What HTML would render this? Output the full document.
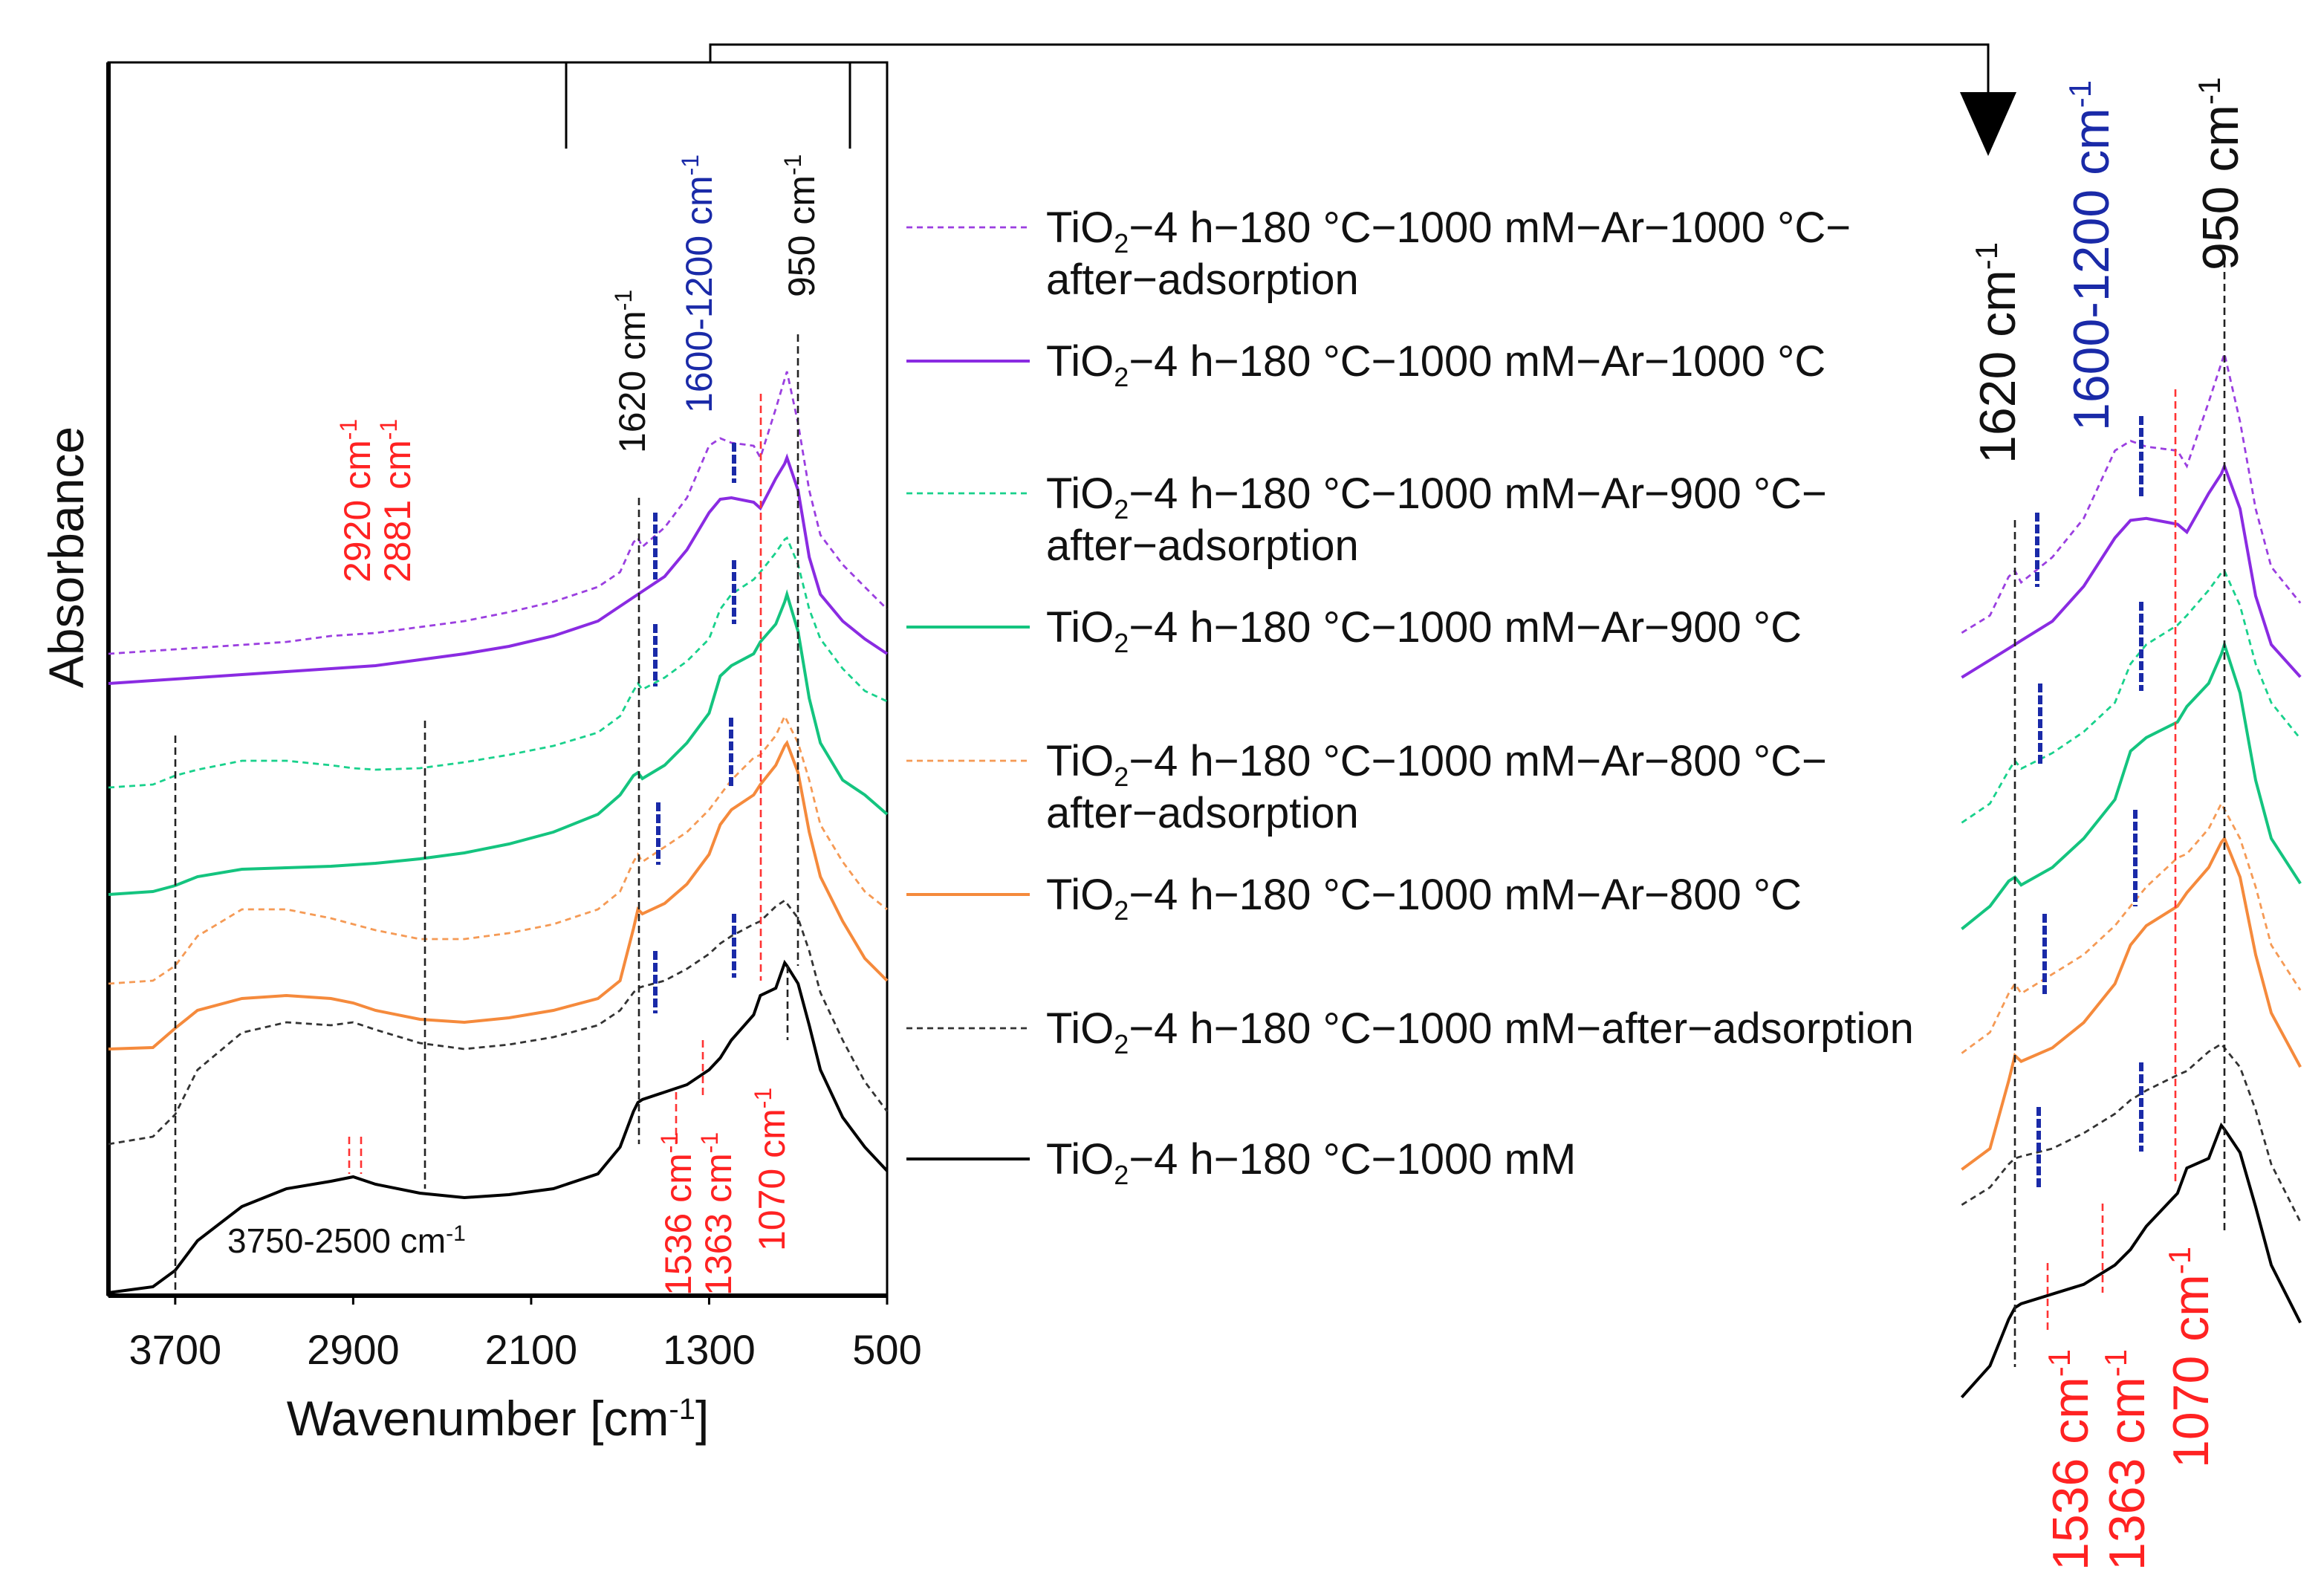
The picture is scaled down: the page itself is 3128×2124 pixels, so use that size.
<!DOCTYPE html>
<html><head><meta charset="utf-8">
<style>
html,body{margin:0;padding:0;background:#fff;}
svg{display:block;font-family:"Liberation Sans",Arial,sans-serif;}
</style></head>
<body>
<svg id="chart" width="3128" height="2124" viewBox="0 0 1564 1062" xmlns="http://www.w3.org/2000/svg">
<rect width="1564" height="1062" fill="#fff"/>
<g id="main"></g>
<g id="zoomp"></g>
<g id="legend"></g>
<g id="annot"></g>
</svg>
<script>
const wavenumbers=[4000,3800,3700,3600,3400,3200,3000,2900,2800,2600,2400,2200,2000,1800,1700,1640,1620,1600,1500,1400,1300,1250,1200,1100,1070,1000,960,950,900,850,800,700,600,500];
const blackSolid=[2,6,17,37,60,72,77,80,75,69,66,68,72,82,100,124,130,132,137,142,152,160,172,189,202,207,224,222,210,182,152,120,100,84];
const blackDashed=[102,107,122,152,177,184,182,184,179,170,166,169,174,182,192,204,207,208,212,220,230,237,242,250,252,262,266,264,254,232,204,172,144,124];
const orangeSolid=[166,167,180,192,200,202,200,197,192,186,184,187,192,200,212,247,260,257,264,277,297,317,327,337,344,357,370,372,352,312,282,252,227,212];
const orangeDashed=[210,212,222,242,260,260,254,250,246,240,240,244,250,260,272,292,297,292,302,312,327,337,347,362,364,377,390,387,372,347,317,292,272,260];
const greenSolid=[270,272,276,282,287,288,289,290,291,294,298,304,312,324,337,350,352,348,357,372,392,417,424,432,440,452,467,472,447,402,372,347,337,324];
const greenDashed=[342,344,350,354,360,360,357,355,354,355,359,364,370,379,390,407,412,408,416,427,442,462,472,482,487,500,509,510,492,462,442,422,407,400];
const purpleSolid=[412,414,415,416,418,420,422,423,424,428,432,437,444,454,464,470,472,474,484,502,527,536,537,534,530,550,560,564,542,497,472,454,442,432];
const purpleDashed=[432,434,435,436,438,440,444,445,446,450,454,460,467,477,487,507,510,504,517,537,572,577,574,572,564,597,617,622,587,542,512,492,477,462];
const xTicks=[3700,2900,2100,1300,500];
const seriesNames=["TiO2-1000-Ar-1000-after","TiO2-1000-Ar-1000","TiO2-1000-Ar-900-after","TiO2-1000-Ar-900","TiO2-1000-Ar-800-after","TiO2-1000-Ar-800","TiO2-1000-after","TiO2-1000"];
const seriesData=[purpleDashed,purpleSolid,greenDashed,greenSolid,orangeDashed,orangeSolid,blackDashed,blackSolid];
const seriesColors=["#9b3fe0","#8a2be2","#19d18c","#14c47f","#f59a55","#f58a3c","#333","#000"];
const seriesDash=[true,false,true,false,true,false,true,false];
const legendText=["TiO|2|−4 h−180 °C−1000 mM−Ar−1000 °C−","TiO|2|−4 h−180 °C−1000 mM−Ar−1000 °C","TiO|2|−4 h−180 °C−1000 mM−Ar−900 °C−","TiO|2|−4 h−180 °C−1000 mM−Ar−900 °C","TiO|2|−4 h−180 °C−1000 mM−Ar−800 °C−","TiO|2|−4 h−180 °C−1000 mM−Ar−800 °C","TiO|2|−4 h−180 °C−1000 mM−after−adsorption","TiO|2|−4 h−180 °C−1000 mM"];
const legendSecond=["after−adsorption","","after−adsorption","","after−adsorption","","",""];

const NS="http://www.w3.org/2000/svg";
function mk(parent,tag,attrs,name,inter){const e=document.createElementNS(NS,tag);for(const k in attrs)e.setAttribute(k,attrs[k]);


parent.appendChild(e);return e;}
const X0=73,X1=597,Y0=42,YB=872;
const xs=w=>X0+(4000-w)*(X1-X0)/3500;
const ys=a=>YB-a;
const zx=w=>1356+(1620-w)*0.2104;
const zy=a=>238+(622-a)*1.305;
const main=document.getElementById('main'),zp=document.getElementById('zoomp'),lg=document.getElementById('legend'),an=document.getElementById('annot');

mk(main,'rect',{x:X0,y:Y0,width:X1-X0,height:YB-Y0,fill:'none',stroke:'#000','stroke-width':1.5},'plot-frame',false);
mk(main,'line',{x1:X0,y1:YB,x2:X1,y2:YB,stroke:'#000','stroke-width':3},'x-axis',false);
mk(main,'line',{x1:X0,y1:Y0,x2:X0,y2:YB,stroke:'#000','stroke-width':3},'y-axis',false);
xTicks.forEach(t=>{
 mk(main,'line',{x1:xs(t),y1:YB,x2:xs(t),y2:YB+6,stroke:'#000','stroke-width':1.5},'x-tick',false);
 const tx=mk(main,'text',{x:xs(t),y:918,'font-size':28,'text-anchor':'middle',fill:'#111'},'x-tick-label',false);tx.textContent=t;
});
let xt=mk(main,'text',{x:335,y:966,'font-size':33,'text-anchor':'middle',fill:'#111'},'x-axis-title',false);
xt.innerHTML='Wavenumber [cm<tspan font-size="20" baseline-shift="super">-1</tspan>]';
let yt=mk(main,'text',{x:0,y:0,'font-size':33,'text-anchor':'middle',fill:'#111',transform:'translate(56,375) rotate(-90)'},'y-axis-title',false);
yt.textContent='Absorbance';

mk(main,'polyline',{points:'478,42 478,30 1338,30 1338,70',fill:'none',stroke:'#000','stroke-width':1.5},'zoom-connector',false);
mk(main,'polygon',{points:'1319,62 1357,62 1338,105',fill:'#000'},'zoom-arrow',false);
mk(main,'line',{x1:381,y1:42,x2:381,y2:100,stroke:'#000','stroke-width':1.5},'zoom-bracket-left',false);
mk(main,'line',{x1:572,y1:42,x2:572,y2:100,stroke:'#000','stroke-width':1.5},'zoom-bracket-right',false);

seriesData.forEach((d,i)=>{
 const pts=wavenumbers.map((w,j)=>xs(w).toFixed(1)+','+ys(d[j]).toFixed(1)).join(' ');
 mk(main,'polyline',{points:pts,fill:'none',stroke:seriesColors[i],'stroke-width':seriesDash[i]?1.4:2,'stroke-dasharray':seriesDash[i]?'4,3':'none'},'series-'+seriesNames[i],false);
 const lo=1790,hi=707;const zpts=[];
 for(let j=0;j<wavenumbers.length-1;j++){const w1=wavenumbers[j],w2=wavenumbers[j+1];
  if(w1>=lo&&w2<lo){const f=(w1-lo)/(w1-w2);zpts.push([lo,d[j]+f*(d[j+1]-d[j])]);}
  if(w1<=lo&&w1>=hi)zpts.push([w1,d[j]]);
  if(w1>hi&&w2<=hi){const f=(w1-hi)/(w1-w2);zpts.push([hi,d[j]+f*(d[j+1]-d[j])]);}
 }
 mk(zp,'polyline',{points:zpts.map(p=>zx(p[0]).toFixed(1)+','+zy(p[1]).toFixed(1)).join(' '),fill:'none',stroke:seriesColors[i],'stroke-width':seriesDash[i]?1.4:2,'stroke-dasharray':seriesDash[i]?'4,3':'none'},'zoom-series-'+seriesNames[i],false);
});

const legY=[153,243,332,422,512,602,692,780];
legendText.forEach((t,i)=>{
 mk(lg,'line',{x1:610,y1:legY[i],x2:693,y2:legY[i],stroke:seriesColors[i],'stroke-width':seriesDash[i]?1.4:2,'stroke-dasharray':seriesDash[i]?'4,3':'none'},'legend-line',false);
 const p=t.split('|');
 const tx=mk(lg,'text',{x:704,y:legY[i]+10,'font-size':29,fill:'#111'},'legend-entry',false);
 tx.innerHTML=p[0]+'<tspan font-size="18" dy="7">'+p[1]+'</tspan><tspan dy="-7">'+p[2]+'</tspan>';
 if(legendSecond[i]){const t2=mk(lg,'text',{x:704,y:legY[i]+45,'font-size':29,fill:'#111'},'legend-entry-cont',false);t2.textContent=legendSecond[i];}
});

function vl(x,y1,y2,c,w,dash,name){mk(an,'line',{x1:x,y1:y1,x2:x,y2:y2,stroke:c,'stroke-width':w,'stroke-dasharray':dash},name,false);}
vl(118,495,868,'#222',1.3,'5,3','marker-3700');
vl(286,485,800,'#222',1.3,'5,3','marker-2500');
vl(430,335,770,'#222',1.3,'5,3','marker-1620');
vl(537,225,650,'#222',1.3,'5,3','marker-950');
vl(530,650,700,'#222',1.3,'5,3','marker-950b');
vl(512,265,660,'#f33',1.3,'5,3','marker-1070');
vl(235,765,790,'#f33',1.3,'5,3','marker-2920');
vl(243,765,790,'#f33',1.3,'5,3','marker-2881');
vl(455,735,770,'#f33',1.3,'5,3','marker-1536');
vl(473,700,740,'#f33',1.3,'5,3','marker-1363');
[[441,345,390],[441,420,462],[443,540,582],[441,640,682],[494,298,325],[494,377,420],[492,483,530],[494,615,658]].forEach(b=>vl(b[0],b[1],b[2],'#1a2aa8',3,'6,2','blue-band-marker'));
vl(1356,350,920,'#222',1.3,'5,3','zoom-marker-1620');
vl(1497,175,830,'#222',1.3,'5,3','zoom-marker-950');
vl(1464,262,795,'#f33',1.3,'5,3','zoom-marker-1070');
vl(1378,850,895,'#f33',1.3,'5,3','zoom-marker-1536');
vl(1415,810,870,'#f33',1.3,'5,3','zoom-marker-1363');
[[1371,345,395],[1373,460,515],[1376,615,670],[1372,745,800],[1441,280,335],[1441,405,465],[1437,545,610],[1441,715,775]].forEach(b=>vl(b[0],b[1],b[2],'#1a2aa8',3,'6,2','zoom-blue-band-marker'));

function rt(x,y,txt,c,fs,name){const t=mk(an,'text',{x:0,y:0,'font-size':fs,fill:c,transform:`translate(${x},${y}) rotate(-90)`},name,false);
 t.innerHTML=txt+' cm<tspan font-size="'+Math.round(fs*0.62)+'" dy="-'+Math.round(fs*0.35)+'">-1</tspan>';}
rt(249,392,'2920','#f22',25,'label-2920');
rt(276,392,'2881','#f22',25,'label-2881');
rt(434,305,'1620','#111',25,'label-1620');
rt(479,278,'1600-1200','#1a2aa8',25,'label-1600-1200');
rt(548,200,'950','#111',25,'label-950');
rt(465,872,'1536','#f22',25,'label-1536');
rt(492,872,'1363','#f22',25,'label-1363');
rt(528,842,'1070','#f22',25,'label-1070');
const h=mk(an,'text',{x:153,y:843,'font-size':23,fill:'#111'},'label-3750-2500',false);
h.innerHTML='3750-2500 cm<tspan font-size="15" dy="-8">-1</tspan>';
rt(1356,312,'1620','#111',34,'zoom-label-1620');
rt(1419,290,'1600-1200','#1a2aa8',34,'zoom-label-1600-1200');
rt(1506,182,'950','#111',34,'zoom-label-950');
rt(1405,1057,'1536','#f22',34,'zoom-label-1536');
rt(1443,1057,'1363','#f22',34,'zoom-label-1363');
rt(1486,988,'1070','#f22',34,'zoom-label-1070');
</script>
</body></html>
